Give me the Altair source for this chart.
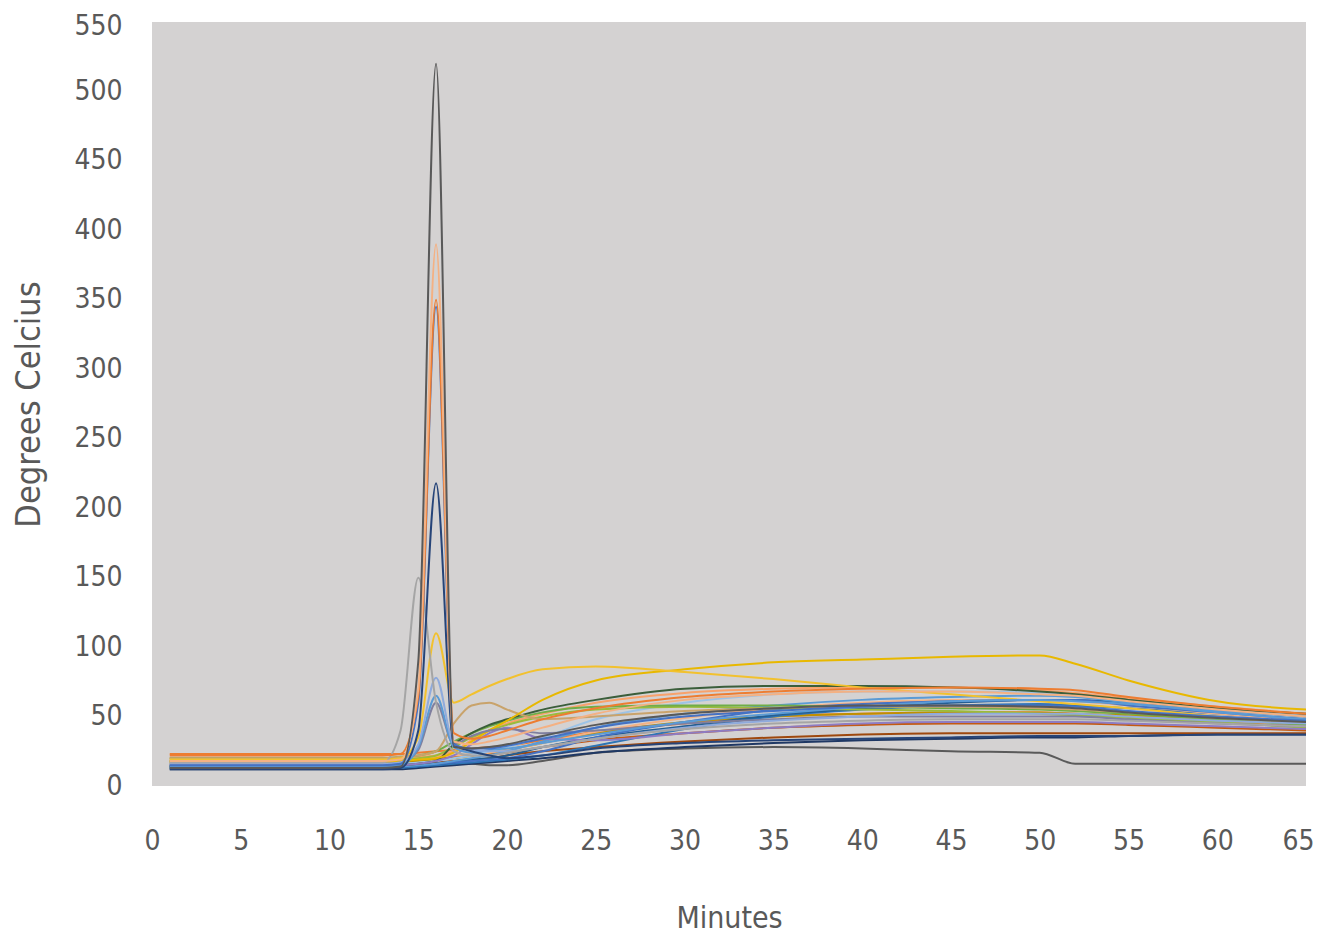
import altair as alt
import pandas as pd

minutes = [1, 13, 14, 15, 16, 17, 18, 19, 20, 22, 25, 30, 35, 40, 45, 50, 52, 55, 60, 65]

s_grey_drop = [14, 14, 14, 15, 16, 16, 16, 15, 15, 18, 24, 27, 28, 27, 25, 24, 16, 16, 16, 16]
s_navy_low = [12, 12, 12, 13, 14, 15, 16, 17, 18, 20, 24, 28, 31, 33, 34, 35, 35, 36, 37, 37]
s_brown = [15, 15, 15, 16, 17, 18, 19, 20, 22, 25, 28, 32, 35, 37, 38, 38, 38, 38, 38, 38]
s_rust = [18, 18, 18, 19, 20, 21, 22, 23, 24, 28, 33, 38, 42, 44, 45, 45, 45, 44, 42, 40]
s_orange_mid = [23, 23, 23, 24, 25, 26, 27, 28, 29, 33, 39, 45, 50, 52, 53, 53, 52, 50, 46, 43]
s_gold_dark = [17, 17, 17, 18, 19, 20, 22, 24, 26, 31, 38, 46, 50, 52, 53, 53, 52, 51, 48, 45]
s_steelblue = [13, 13, 13, 14, 15, 16, 17, 18, 19, 22, 29, 41, 50, 55, 58, 59, 58, 56, 52, 48]
s_teal = [14, 14, 14, 15, 16, 17, 19, 20, 22, 28, 35, 43, 51, 56, 60, 62, 62, 60, 55, 50]
s_lightorange_rise = [19, 19, 19, 20, 21, 22, 23, 24, 26, 31, 39, 49, 56, 60, 62, 62, 61, 58, 52, 48]
s_blue_rise = [14, 14, 14, 15, 16, 17, 18, 19, 20, 25, 35, 46, 55, 59, 61, 62, 62, 58, 53, 48]
s_lightblue_rise = [13, 13, 14, 15, 16, 18, 20, 22, 25, 32, 42, 52, 58, 62, 64, 65, 64, 60, 53, 48]
s_paleblue = [16, 16, 16, 17, 18, 20, 22, 25, 28, 35, 48, 60, 66, 68, 68, 67, 66, 62, 56, 51]
s_peach = [20, 20, 20, 21, 22, 25, 33, 40, 45, 52, 60, 67, 70, 71, 71, 69, 67, 63, 57, 52]
s_olive = [18, 18, 19, 20, 22, 28, 35, 40, 44, 50, 55, 57, 56, 55, 54, 52, 51, 49, 46, 42]
s_green = [20, 20, 21, 22, 25, 32, 38, 43, 47, 53, 57, 58, 58, 57, 56, 55, 54, 52, 48, 44]
s_dark_green = [14, 14, 15, 16, 18, 30, 38, 44, 48, 55, 62, 70, 72, 72, 71, 68, 66, 62, 56, 52]
s_bump_purple = [15, 15, 15, 16, 18, 22, 30, 38, 42, 34, 33, 38, 42, 45, 46, 46, 46, 45, 43, 41]
s_bump_tan = [20, 20, 21, 22, 25, 45, 58, 60, 55, 48, 50, 54, 56, 57, 57, 56, 55, 53, 49, 46]
s_yellow_slow = [17, 17, 18, 19, 20, 24, 32, 40, 47, 62, 76, 84, 89, 91, 93, 94, 88, 76, 61, 55]
s_yellow_fast = [19, 19, 20, 35, 110, 60, 66, 72, 77, 84, 86, 82, 77, 71, 66, 61, 59, 56, 50, 46]
s_peak_slate = [16, 16, 17, 26, 60, 30, 36, 40, 41, 38, 40, 45, 48, 50, 50, 50, 50, 48, 45, 43]
s_peak_steel = [14, 14, 15, 28, 65, 28, 24, 26, 27, 31, 37, 46, 52, 57, 61, 62, 61, 59, 54, 50]
s_peak_lavender = [16, 16, 17, 30, 78, 30, 26, 25, 25, 28, 34, 42, 47, 50, 52, 52, 52, 50, 47, 45]
s_peak_grey_wide = [17, 17, 40, 150, 60, 25, 22, 22, 24, 28, 34, 41, 45, 47, 48, 48, 48, 47, 45, 43]
s_peak_navy = [12, 12, 13, 40, 218, 30, 25, 22, 20, 22, 27, 31, 33, 34, 35, 36, 36, 36, 37, 37]
s_peak_blue = [15, 15, 16, 60, 345, 30, 27, 27, 29, 34, 42, 50, 54, 57, 58, 58, 57, 54, 50, 47]
s_peak_orange = [22, 22, 23, 65, 350, 38, 34, 36, 40, 48, 56, 64, 68, 70, 71, 70, 69, 64, 57, 52]
s_peak_lightorange = [18, 18, 19, 70, 390, 32, 30, 32, 35, 42, 52, 62, 66, 68, 68, 66, 65, 61, 55, 50]
s_peak_grey = [13, 13, 14, 90, 520, 28, 27, 28, 30, 36, 44, 52, 56, 58, 58, 57, 56, 53, 49, 46]

series = [
    ("grey_drop", s_grey_drop),
    ("navy_low", s_navy_low),
    ("brown", s_brown),
    ("rust", s_rust),
    ("orange_mid", s_orange_mid),
    ("gold_dark", s_gold_dark),
    ("steelblue", s_steelblue),
    ("teal", s_teal),
    ("lightorange_rise", s_lightorange_rise),
    ("blue_rise", s_blue_rise),
    ("lightblue_rise", s_lightblue_rise),
    ("paleblue", s_paleblue),
    ("peach", s_peach),
    ("olive", s_olive),
    ("green", s_green),
    ("dark_green", s_dark_green),
    ("bump_purple", s_bump_purple),
    ("bump_tan", s_bump_tan),
    ("yellow_slow", s_yellow_slow),
    ("yellow_fast", s_yellow_fast),
    ("peak_slate", s_peak_slate),
    ("peak_steel", s_peak_steel),
    ("peak_lavender", s_peak_lavender),
    ("peak_grey_wide", s_peak_grey_wide),
    ("peak_navy", s_peak_navy),
    ("peak_blue", s_peak_blue),
    ("peak_orange", s_peak_orange),
    ("peak_lightorange", s_peak_lightorange),
    ("peak_grey", s_peak_grey),
]

colors = [
    "#5a5a5a", "#1f3864", "#9e480e", "#c55a11", "#ed7d31", "#bf9000",
    "#2e75b6", "#255e91", "#f4b183", "#4472c4", "#5b9bd5", "#9dc3e6",
    "#f8a26b", "#9bbb3b", "#70ad47", "#3b5e3b", "#8e7cc3", "#c9a36b",
    "#e8b800", "#f2c12e", "#7f7f9f", "#5b9bd5", "#8faadc", "#a5a5a5",
    "#264478", "#4472c4", "#ed7d31", "#f4b183", "#595959",
]

x_ticks = list(range(0, 66, 5))
y_ticks = list(range(0, 551, 50))

rows = []
for order, (name, vals) in enumerate(series):
    for mnt, v in zip(minutes, vals):
        rows.append({"series": name, "order": order, "Minutes": mnt, "Temp": v})
df = pd.DataFrame(rows)

FONT = "DejaVu Sans Condensed, sans-serif"
TXT = "#595959"

chart = alt.Chart(df).mark_line(strokeWidth=2, interpolate="monotone").encode(
    x=alt.X("Minutes:Q",
            scale=alt.Scale(domain=[0, 65], nice=False, zero=False),
            axis=alt.Axis(values=x_ticks, grid=False, domain=False, ticks=False, tickSize=0,
                          labelFlush=False, labelOverlap=False,
                          labelOffset={"condition": {"test": "datum.value == 65", "value": -8},
                                       "value": 0},
                          labelFont=FONT, labelFontSize=28, labelColor=TXT, labelPadding=41,
                          title="Minutes", titleFont=FONT, titleFontSize=30, titleFontWeight="normal",
                          titleColor=TXT, titleY=141, titleBaseline="alphabetic")),
    y=alt.Y("Temp:Q",
            scale=alt.Scale(domain=[0, 550], nice=False),
            axis=alt.Axis(values=y_ticks, grid=False, domain=False, ticks=False, tickSize=0,
                          labelFlush=False, labelOverlap=False,
                          labelOffset={"condition": {"test": "datum.value == 550", "value": 4},
                                       "value": 0},
                          labelFont=FONT, labelFontSize=28, labelColor=TXT, labelPadding=30,
                          title="Degrees Celcius", titleFont=FONT, titleFontSize=34,
                          titleFontWeight="normal", titleColor=TXT, titleX=-113,
                          titleBaseline="alphabetic", titleAngle=270)),
    color=alt.Color("series:N", scale=alt.Scale(domain=[s[0] for s in series], range=colors),
                    sort=[s[0] for s in series], legend=None),
    order=alt.Order("order:Q"),
).properties(
    width=1154, height=764,
    background="white",
    autosize=alt.AutoSizeParams(type="none"),
    padding={"left": 144, "top": 14, "right": 10, "bottom": 148},
).configure_view(fill="#d4d2d2", stroke=None)

chart.save("out.html", embed_options={"renderer": "svg", "actions": False})
